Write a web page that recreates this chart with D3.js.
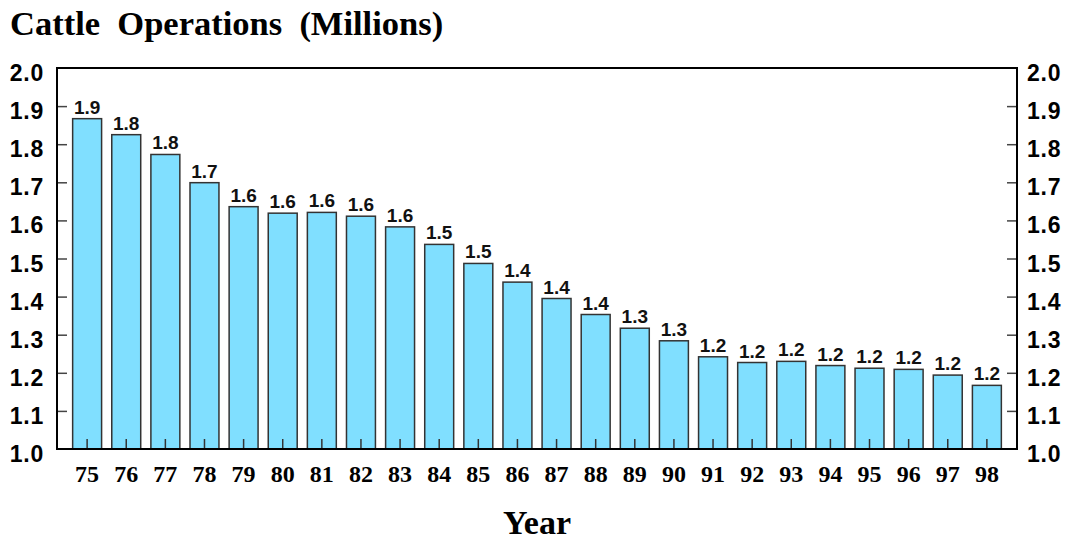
<!DOCTYPE html>
<html>
<head>
<meta charset="utf-8">
<script src="https://cdn.jsdelivr.net/npm/d3@7"></script>
<style>
  html, body { margin: 0; padding: 0; background: #fff; }
  svg { display: block; }
</style>
</head>
<body>
<svg id="chart" width="1070" height="540"></svg>
<script>
// Cattle operations by year, in millions
const years = ["75","76","77","78","79","80","81","82","83","84","85","86",
               "87","88","89","90","91","92","93","94","95","96","97","98"];
const operations = [1.867, 1.825, 1.773, 1.699, 1.636, 1.619, 1.621, 1.611,
                    1.583, 1.537, 1.487, 1.438, 1.395, 1.353, 1.317, 1.284,
                    1.242, 1.227, 1.230, 1.219, 1.212, 1.209, 1.194, 1.167];
const yTicks = [1.0, 1.1, 1.2, 1.3, 1.4, 1.5, 1.6, 1.7, 1.8, 1.9, 2.0];

const titleText = "Cattle\u00a0\u00a0Operations\u00a0\u00a0(Millions)";
const xTitle = "Year";

const plot = { left: 57, right: 1017, top: 68, bottom: 449 };
const svg = d3.select("#chart");

const x = d3.scaleBand()
  .domain(years)
  .range([plot.left, plot.right])
  .paddingInner(0.26)
  .paddingOuter(0.4);

const y = d3.scaleLinear()
  .domain([1.0, 2.0])
  .range([plot.bottom, plot.top]);

const fmt = d3.format(".1f");
const sans = "'Liberation Sans', Arial, Helvetica, sans-serif";
const serif = "'Liberation Serif', 'Times New Roman', Times, serif";

// Title
svg.append("text")
  .attr("x", 10).attr("y", 35)
  .attr("font-family", serif).attr("font-weight", "bold")
  .attr("font-size", 34.5)
  .attr("fill", "#000")
  .text(titleText);

// Bars
svg.append("g").selectAll("rect")
  .data(operations)
  .join("rect")
  .attr("x", (d, i) => x(years[i]))
  .attr("y", d => y(d))
  .attr("width", x.bandwidth())
  .attr("height", d => y(1.0) - y(d))
  .attr("fill", "#80dfff")
  .attr("stroke", "#333")
  .attr("stroke-width", 1.5);

// Value labels
svg.append("g").selectAll("text")
  .data(operations)
  .join("text")
  .attr("x", (d, i) => x(years[i]) + x.bandwidth() / 2)
  .attr("y", d => y(d) - 5)
  .attr("text-anchor", "middle")
  .attr("font-family", sans).attr("font-weight", "bold")
  .attr("font-size", 19)
  .attr("fill", "#111")
  .text(d => fmt(d));

// Left axis: inward ticks, labels outside
const leftAxis = d3.axisRight(y)
  .tickValues(yTicks.filter(v => v > 1.0 && v < 2.0))
  .tickSize(10).tickFormat("");
svg.append("g")
  .attr("transform", `translate(${plot.left},0)`)
  .call(leftAxis)
  .call(g => g.select(".domain").remove())
  .call(g => g.selectAll("line").attr("stroke", "#444").attr("stroke-width", 1.5));

svg.append("g").selectAll("text")
  .data(yTicks)
  .join("text")
  .attr("x", plot.left - 13)
  .attr("y", d => y(d) + 5)
  .attr("dominant-baseline", "central")
  .attr("text-anchor", "end")
  .attr("font-family", sans).attr("font-weight", "bold")
  .attr("font-size", 23).attr("letter-spacing", 0.8)
  .attr("fill", "#000")
  .text(d => fmt(d));

// Right axis: inward ticks, labels outside
const rightAxis = d3.axisLeft(y)
  .tickValues(yTicks.filter(v => v > 1.0 && v < 2.0))
  .tickSize(10).tickFormat("");
svg.append("g")
  .attr("transform", `translate(${plot.right},0)`)
  .call(rightAxis)
  .call(g => g.select(".domain").remove())
  .call(g => g.selectAll("line").attr("stroke", "#444").attr("stroke-width", 1.5));

svg.append("g").selectAll("text")
  .data(yTicks)
  .join("text")
  .attr("x", plot.right + 10)
  .attr("y", d => y(d) + 5)
  .attr("dominant-baseline", "central")
  .attr("text-anchor", "start")
  .attr("font-family", sans).attr("font-weight", "bold")
  .attr("font-size", 23).attr("letter-spacing", 0.8)
  .attr("fill", "#000")
  .text(d => fmt(d));

// Bottom axis: ticks at bar centers pointing up into the bars
const bottomAxis = d3.axisTop(x).tickSize(10).tickSizeOuter(0).tickFormat("");
svg.append("g")
  .attr("transform", `translate(0,${plot.bottom})`)
  .call(bottomAxis)
  .call(g => g.select(".domain").remove())
  .call(g => g.selectAll("line").attr("stroke", "#333").attr("stroke-width", 1.5));

svg.append("g").selectAll("text")
  .data(years)
  .join("text")
  .attr("x", d => x(d) + x.bandwidth() / 2)
  .attr("y", 482)
  .attr("text-anchor", "middle")
  .attr("font-family", serif).attr("font-weight", "bold")
  .attr("font-size", 24)
  .attr("fill", "#000")
  .text(d => d);

// Plot frame
svg.append("rect")
  .attr("x", plot.left).attr("y", plot.top)
  .attr("width", plot.right - plot.left)
  .attr("height", plot.bottom - plot.top)
  .attr("fill", "none")
  .attr("stroke", "#000")
  .attr("stroke-width", 2);

// X axis title
svg.append("text")
  .attr("x", (plot.left + plot.right) / 2)
  .attr("y", 534)
  .attr("text-anchor", "middle")
  .attr("font-family", serif).attr("font-weight", "bold")
  .attr("font-size", 34)
  .attr("fill", "#000")
  .text(xTitle);
</script>
</body>
</html>
